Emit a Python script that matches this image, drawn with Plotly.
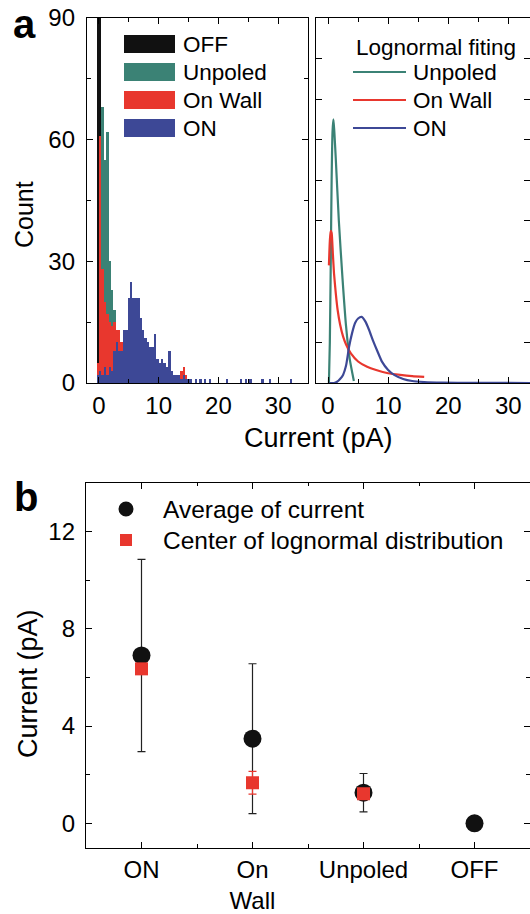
import plotly.graph_objects as go

# ---------------- data ----------------
BIN_W = 0.4
off_x = [-0.2, 0.2]
off_y = [150, 120]

unpoled_x = [0.2, 0.6, 1.0, 1.4, 1.8, 2.2, 2.6, 3.0, 3.4, 3.8, 4.2, 4.6]
unpoled_y = [20, 68, 55, 62, 30, 23, 18, 9, 5, 3, 2, 1]

onwall_x = [-0.2, 0.2, 0.6, 1.0, 1.4, 1.8, 2.2, 2.6, 3.0, 3.4, 3.8, 4.2, 4.6, 5.0, 5.4, 5.8,
            6.2, 6.6, 7.0, 7.4, 7.8, 8.2, 8.6, 9.0, 9.4, 9.8, 10.2, 10.6, 11.0, 11.4, 11.8,
            12.2, 12.6, 13.0, 13.4, 13.8, 14.2, 14.6]
onwall_y = [5, 61, 28, 20, 17, 15, 14, 15, 13, 13, 10, 7, 6, 5, 5, 4,
            4, 4, 3, 3, 3, 3, 2, 2, 2, 2, 2, 2, 2, 3, 3,
            3, 2, 1, 1, 3, 4, 2]

on_x = [-0.2, 0.2, 0.6, 1.0, 1.4, 1.8, 2.2, 2.6, 3.0, 3.4, 3.8, 4.2, 4.6, 5.0, 5.4, 5.8,
        6.2, 6.6, 7.0, 7.4, 7.8, 8.2, 8.6, 9.0, 9.4, 9.8, 10.2, 10.6, 11.0, 11.4, 11.8,
        12.2, 12.6, 13.0, 13.4, 13.8, 14.2, 14.6, 15.0, 15.4, 16.2, 17.0, 17.8, 18.6,
        21.4, 23.8, 24.6, 25.4, 27.4, 28.6, 32.2]
on_y = [2, 3, 2, 4, 2, 4, 3, 8, 10, 8, 8, 13, 13, 21, 25, 21,
        21, 21, 16, 13, 11, 10, 9, 9, 12, 6, 5, 6, 5, 4, 8,
        3, 2, 2, 2, 1, 2, 1, 1, 1, 1, 1, 1, 1,
        1, 1, 1, 1, 1, 1, 1]

fit_unpoled_x = [0.15, 0.3, 0.45, 0.6, 0.75, 0.9, 1.05, 1.3, 1.8, 2.4, 3.0, 3.6, 4.3]
fit_unpoled_y = [0, 10, 29, 50, 62, 65, 62, 55, 40, 26, 14, 6, 0.5]

fit_onwall_x = [0.15, 0.3, 0.45, 0.6, 0.8, 1.0, 1.3, 1.6, 2.0, 2.5, 3.0, 3.8, 5.0, 6.5, 8.0,
                10.0, 12.0, 14.0, 16.0]
fit_onwall_y = [29, 35, 37.5, 37, 32, 27, 22, 18, 14.5, 11.5, 9.5, 7.3, 5.3, 4.0, 3.2,
                2.4, 2.0, 1.7, 1.5]

fit_on_x = [0.2, 1.0, 1.5, 2.0, 2.5, 3.0, 3.5, 4.0, 4.5, 5.0, 5.6, 6.2, 6.8, 7.5, 8.2, 9.0,
            10.0, 11.0, 12.5, 14.0, 16.0, 19.0, 24.0, 30.0, 34.0]
fit_on_y = [0, 0, 0.3, 1.0, 2.0, 4.3, 8.9, 12.3, 14.8, 15.9, 16.3, 15.2, 13.2, 10.4, 7.9, 5.2,
            3.2, 2.0, 1.0, 0.5, 0.25, 0.1, 0.05, 0.02, 0]

categories = ["ON", "On<br>Wall", "Unpoled", "OFF"]
cat_pos = [1, 2, 3, 4]
avg_current = [6.9, 3.48, 1.26, 0.0]
avg_err = [3.95, 3.08, 0.79, 0.0]
center_pos = [1, 2, 3]
center_current = [6.35, 1.67, 1.22]
center_err = [0.0, 0.47, 0.0]

# ---------------- style ----------------
BLACK = "#111111"
TEAL = "#3b8275"
RED = "#e8372e"
BLUE = "#3d4896"
FONT = "Liberation Sans, Arial, sans-serif"
W, H = 530, 914


def px(x):
    return x / W


def py(y):
    return 1 - y / H


fig = go.Figure()

# histograms (panel a, left)
for xs, ys, col in [(off_x, off_y, BLACK), (unpoled_x, unpoled_y, TEAL),
                    (onwall_x, onwall_y, RED), (on_x, on_y, BLUE)]:
    fig.add_trace(go.Bar(x=xs, y=ys, width=BIN_W, marker=dict(color=col, line=dict(width=0)),
                         xaxis="x", yaxis="y", showlegend=False))

# lognormal fits (panel a, right)
for xs, ys, col in [(fit_unpoled_x, fit_unpoled_y, TEAL), (fit_onwall_x, fit_onwall_y, RED),
                    (fit_on_x, fit_on_y, BLUE)]:
    fig.add_trace(go.Scatter(x=xs, y=ys, mode="lines", line=dict(color=col, width=2.2, shape="spline", smoothing=0.6),
                             xaxis="x2", yaxis="y2", showlegend=False))

# panel b
fig.add_trace(go.Scatter(x=cat_pos, y=avg_current, mode="markers",
                         marker=dict(symbol="circle", size=18, color=BLACK),
                         error_y=dict(type="data", array=avg_err, color="#222222", thickness=1.2, width=4),
                         xaxis="x3", yaxis="y3", showlegend=False))
fig.add_trace(go.Scatter(x=center_pos, y=center_current, mode="markers",
                         marker=dict(symbol="square", size=13, color=RED),
                         error_y=dict(type="data", array=center_err, color=RED, thickness=1.2, width=4),
                         xaxis="x3", yaxis="y3", showlegend=False))

axis_common = dict(showline=True, linecolor="black", linewidth=1.3, mirror="ticks",
                   ticks="inside", ticklen=6, tickwidth=1.2, tickcolor="black",
                   showgrid=False, zeroline=False, automargin=False,
                   tickfont=dict(family=FONT, size=24, color="black"))

fig.update_layout(
    width=W, height=H, margin=dict(l=0, r=0, t=0, b=0, autoexpand=False),
    paper_bgcolor="white", plot_bgcolor="white",
    barmode="overlay", bargap=0,
    font=dict(family=FONT, color="black"),
    xaxis=dict(domain=[px(87), px(308)], range=[-2, 35], anchor="y",
               tickvals=[0, 10, 20, 30], ticklabelstandoff=1,
               minor=dict(tickvals=[5, 15, 25, 35], ticks="inside", ticklen=3.5, tickcolor="black"),
               **axis_common),
    yaxis=dict(domain=[py(383), py(18)], range=[0, 90], anchor="x",
               tickvals=[0, 30, 60, 90], ticklabelstandoff=6,
               minor=dict(tickvals=[15, 45, 75], ticks="inside", ticklen=3.5, tickcolor="black"),
               **axis_common),
    xaxis2=dict(domain=[px(316), 1.0], range=[-2, 33.6], anchor="y2",
                tickvals=[0, 10, 20, 30], ticklabelstandoff=1,
                minor=dict(tickvals=[5, 15, 25], ticks="inside", ticklen=3.5, tickcolor="black"),
                **axis_common),
    yaxis2=dict(domain=[py(383), py(18)], range=[0, 90], anchor="x2",
                tickvals=[10, 20, 30, 40, 50, 60, 70, 80], showticklabels=False,
                **axis_common),
    xaxis3=dict(domain=[px(86), 1.0], range=[0.5, 4.5], anchor="y3",
                tickvals=cat_pos, ticktext=categories, ticklabelstandoff=0,
                minor=dict(tickvals=[1.5, 2.5, 3.5], ticks="inside", ticklen=3.5, tickcolor="black"),
                **axis_common),
    yaxis3=dict(domain=[py(847.7), py(482.7)], range=[-1, 14], anchor="x3",
                tickvals=[0, 4, 8, 12], ticklabelstandoff=5,
                minor=dict(tickvals=[2, 6, 10], ticks="inside", ticklen=3.5, tickcolor="black"),
                **axis_common),
)

shapes = []
annotations = []


def text(x, y, s, size, xanchor="left", bold=False, angle=0):
    annotations.append(dict(x=px(x), y=py(y), xref="paper", yref="paper", text=s if not bold else f"<b>{s}</b>",
                            showarrow=False, xanchor=xanchor, yanchor="middle", textangle=angle,
                            font=dict(family=FONT, size=size, color="black")))


# panel a legend (histogram)
hist_legend = [("OFF", BLACK), ("Unpoled", TEAL), ("On Wall", RED), ("ON", BLUE)]
for i, (lab, col) in enumerate(hist_legend):
    yc = 44 + 28 * i
    shapes.append(dict(type="rect", xref="paper", yref="paper", x0=px(124), x1=px(175),
                       y0=py(yc + 9), y1=py(yc - 9), fillcolor=col, line=dict(width=0)))
    text(181, yc, lab, 22.5)

# panel a legend (fits)
text(354, 47, "Lognormal fiting", 22.5)
fit_legend = [("Unpoled", TEAL), ("On Wall", RED), ("ON", BLUE)]
for i, (lab, col) in enumerate(fit_legend):
    yc = 72 + 28 * i
    shapes.append(dict(type="line", xref="paper", yref="paper", x0=px(353), x1=px(406),
                       y0=py(yc), y1=py(yc), line=dict(color=col, width=2.2)))
    text(411, yc, lab, 22.5)

# panel b legend
shapes.append(dict(type="circle", xref="paper", yref="paper", x0=px(118.5), x1=px(133.5),
                   y0=py(516.5), y1=py(501.5), fillcolor=BLACK, line=dict(width=0)))
shapes.append(dict(type="rect", xref="paper", yref="paper", x0=px(120), x1=px(132),
                   y0=py(546), y1=py(534), fillcolor=RED, line=dict(width=0)))
text(161, 509, "Average of current", 24.5)
text(161, 540, "Center of lognormal distribution", 24.5)

# axis titles and panel letters
text(24, 215, "Count", 25, xanchor="center", angle=-90)
text(318, 438, "Current (pA)", 27, xanchor="center")
text(28, 684, "Current (pA)", 27, xanchor="center", angle=-90)
text(24, 24, "a", 40, xanchor="center", bold=True)
text(26, 497, "b", 40, xanchor="center", bold=True)

fig.update_layout(shapes=shapes, annotations=annotations)
fig.write_html("out.html", config={"displayModeBar": False},
               post_script="document.body.style.margin='0';document.body.style.overflow='hidden';")
